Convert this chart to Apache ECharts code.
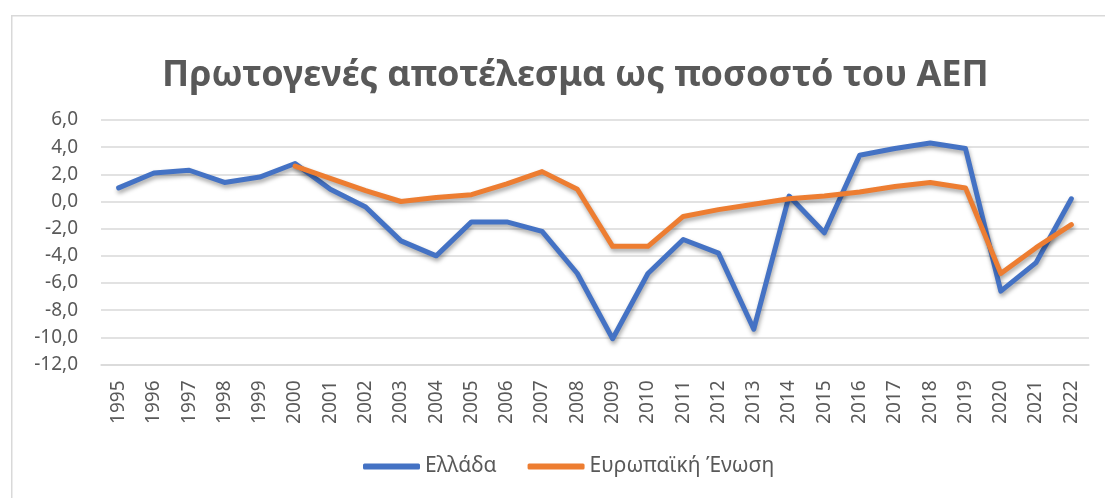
<!DOCTYPE html>
<html>
<head>
<meta charset="utf-8">
<script src="https://cdn.jsdelivr.net/npm/echarts@6/dist/echarts.min.js"></script>
<style>
html,body{margin:0;padding:0;background:#fff;}
#chart{width:1105px;height:498px;}
</style>
</head>
<body>
<div id="chart"></div>
<script>
const years = ['1995','1996','1997','1998','1999','2000','2001','2002','2003','2004','2005','2006','2007','2008','2009','2010','2011','2012','2013','2014','2015','2016','2017','2018','2019','2020','2021','2022'];
const greece = [1.0, 2.1, 2.3, 1.4, 1.8, 2.8, 0.9, -0.4, -2.9, -4.0, -1.5, -1.5, -2.2, -5.3, -10.1, -5.3, -2.8, -3.8, -9.4, 0.4, -2.3, 3.4, 3.9, 4.3, 3.9, -6.6, -4.5, 0.2];
const eu = [null, null, null, null, null, 2.6, 1.7, 0.8, 0.0, 0.3, 0.5, 1.3, 2.2, 0.9, -3.3, -3.3, -1.1, -0.6, -0.2, 0.2, 0.4, 0.7, 1.1, 1.4, 1.0, -5.3, -3.4, -1.7];
const seriesNames = ['Ελλάδα', 'Ευρωπαϊκή Ένωση'];
const titleText = 'Πρωτογενές αποτέλεσμα ως ποσοστό του ΑΕΠ';

const FONT = 'Noto Sans';
const TXT = '#595959';
const chart = echarts.init(document.getElementById('chart'), null, {renderer: 'canvas'});
const lineStyle = (c) => ({
  width: 5, color: c, cap: 'round', join: 'round',
  shadowColor: 'rgba(0,0,0,0.35)', shadowBlur: 4, shadowOffsetX: 1, shadowOffsetY: 3
});
chart.setOption({
  animation: false,
  backgroundColor: '#fff',
  graphic: [{
    type: 'rect', left: 11, top: 15, silent: true, z: -10,
    shape: {width: 1200, height: 600},
    style: {fill: '#fff', stroke: '#d9d9d9', lineWidth: 1.5}
  }],
  title: {
    text: titleText, left: 157, top: 53,
    textStyle: {fontFamily: FONT, fontWeight: 'bold', fontSize: 36, color: TXT}
  },
  legend: {
    bottom: 16, left: 358, itemGap: 31,
    itemWidth: 57, itemHeight: 6, icon: 'roundRect',
    textStyle: {fontFamily: FONT, fontSize: 21, color: TXT},
    data: seriesNames
  },
  grid: {left: 101, right: 16, top: 120, bottom: 133.5, containLabel: false},
  xAxis: {
    type: 'category', data: years, boundaryGap: true,
    axisLine: {onZero: false, lineStyle: {color: '#d9d9d9', width: 1.5}},
    axisTick: {show: false},
    axisLabel: {rotate: 90, fontFamily: FONT, fontSize: 19, color: TXT, margin: 16, interval: 0}
  },
  yAxis: {
    type: 'value', min: -12, max: 6, interval: 2,
    axisLine: {show: false}, axisTick: {show: false},
    splitLine: {lineStyle: {color: '#d9d9d9', width: 1.5}},
    axisLabel: {
      fontFamily: FONT, fontSize: 19, color: TXT, margin: 23,
      formatter: (v) => v.toFixed(1).replace('.', ',')
    }
  },
  series: [
    {name: seriesNames[0], type: 'line', data: greece, symbol: 'none', color: '#4472C4', lineStyle: lineStyle('#4472C4'), z: 2},
    {name: seriesNames[1], type: 'line', data: eu, symbol: 'none', color: '#ED7D31', lineStyle: lineStyle('#ED7D31'), z: 3}
  ]
});
</script>
</body>
</html>
